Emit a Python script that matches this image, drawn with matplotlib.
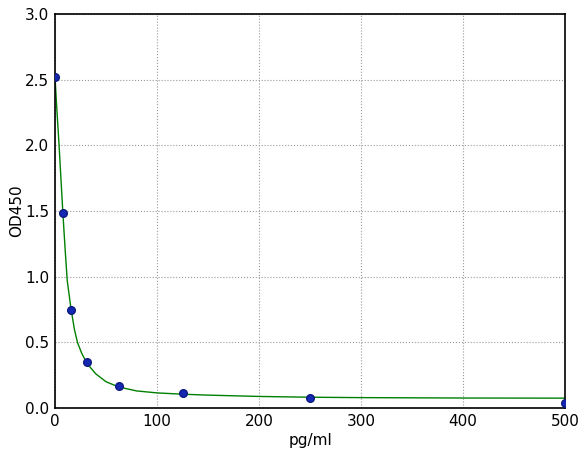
import numpy as np
import matplotlib
matplotlib.use("Agg")
import matplotlib.pyplot as plt

# standard points (pg/ml vs OD450)
conc = [0, 7.8, 15.6, 31.25, 62.5, 125, 250, 500]
od = [2.52, 1.487, 0.75, 0.35, 0.167, 0.113, 0.078, 0.04]

# fitted curve
curve_x = [0, 2, 4, 6, 8, 10, 12, 15.6, 19, 22, 26, 31.25, 40, 50,
           62.5, 80, 100, 125, 150, 200, 250, 300, 400, 500]
curve_y = [2.52, 2.25, 2.0, 1.72, 1.45, 1.2, 0.97, 0.76, 0.6, 0.5, 0.42,
           0.34, 0.26, 0.2, 0.16, 0.13, 0.115, 0.105, 0.098, 0.088, 0.082,
           0.079, 0.076, 0.075]

fig = plt.figure(figsize=(5.87, 4.57), dpi=100)
ax = fig.add_axes([55 / 587, 1 - 408 / 457, 510 / 587, 394 / 457])

ax.plot(curve_x, curve_y, color="green", lw=1.0, zorder=2)
ax.plot(conc, od, "o", color="#1428b4", mec="#0c1a80", ms=5.5, zorder=3)

ax.set_xlim(0, 500)
ax.set_ylim(0, 3.0)
ax.set_xticks(np.arange(0, 501, 100))
ax.set_yticks(np.arange(0, 3.01, 0.5))
ax.set_yticklabels([f"{v:.1f}" for v in np.arange(0, 3.01, 0.5)])
ax.tick_params(direction="in", length=0, labelsize=11, pad=4)
ax.grid(True, color="#999999", linestyle=":", lw=0.8)
for s in ax.spines.values():
    s.set_linewidth(1.2)
    s.set_color("black")

ax.set_xlabel("pg/ml", fontsize=11, labelpad=3)
ax.set_ylabel("OD450", fontsize=11, labelpad=1)

fig.savefig("out.png", dpi=100)
